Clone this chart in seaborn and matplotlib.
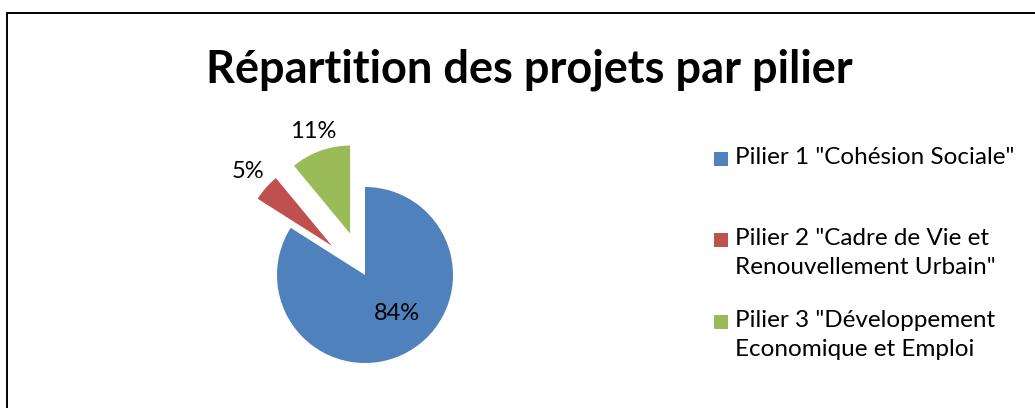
import numpy as np
import seaborn as sns
import matplotlib.pyplot as plt
from matplotlib.lines import Line2D
from matplotlib.patches import Rectangle

# data
categories = ['Pilier 1 "Cohésion Sociale"',
              'Pilier 2 "Cadre de Vie et\nRenouvellement Urbain"',
              'Pilier 3 "Développement\nEconomique et Emploi']
shares = [84, 5, 11]
colors = ['#4F81BD', '#C0504D', '#9BBB59']

sns.set_style('white')
plt.rcParams['font.family'] = ['Lato', 'DejaVu Sans']
plt.rcParams['text.color'] = 'black'

W, H = 1035, 408
fig = plt.figure(figsize=(W / 100, H / 100), dpi=100)

# chart frame (cut at right and bottom like the source)
fig.add_artist(Line2D([7 / W, 1], [1 - 13 / H, 1 - 13 / H], color='black', lw=1.4))
fig.add_artist(Line2D([7 / W, 7 / W], [1 - 13 / H, 0], color='black', lw=1.4))

fig.text(529 / W, 1 - 70 / H, 'Répartition des projets par pilier',
         ha='center', va='center', fontsize=32.5, fontweight='bold')

# pie axes: centre at (365, 275), radius ~88 px
r = 88
ax = fig.add_axes([(365 - 2 * r) / W, 1 - (275 + 2 * r) / H, 4 * r / W, 4 * r / H])
wedges, texts, autotexts = ax.pie(shares, colors=colors, startangle=90, counterclock=False,
                                  explode=[0, 0.5, 0.5], autopct='%d%%',
                                  wedgeprops=dict(linewidth=0),
                                  textprops=dict(fontsize=17, color='black'))
ax.set_xlim(-2, 2)
ax.set_ylim(-2, 2)
ax.set_aspect('equal')

# label placement per slice, measured from each wedge's own centre
dists = [0.57, 1.27, 1.23]
turns = [11, 0, 0]
for w, t, d, a in zip(wedges, autotexts, dists, turns):
    ang = np.deg2rad((w.theta1 + w.theta2) / 2 + a)
    cx, cy = w.center
    t.set_position((cx + d * np.cos(ang), cy + d * np.sin(ang)))
    t.set_ha('center')
    t.set_va('center')

# legend, laid out like the source (swatch level with first line)
tops = [147, 228, 310]
for lab, col, top in zip(categories, colors, tops):
    fig.add_artist(Rectangle((714 / W, 1 - (top + 19) / H), 14 / W, 14 / H,
                             facecolor=col, edgecolor='none', transform=fig.transFigure))
    fig.text(735 / W, 1 - top / H, lab, ha='left', va='top', fontsize=17.5,
             linespacing=1.5)

fig.savefig('out.png', dpi=100)
